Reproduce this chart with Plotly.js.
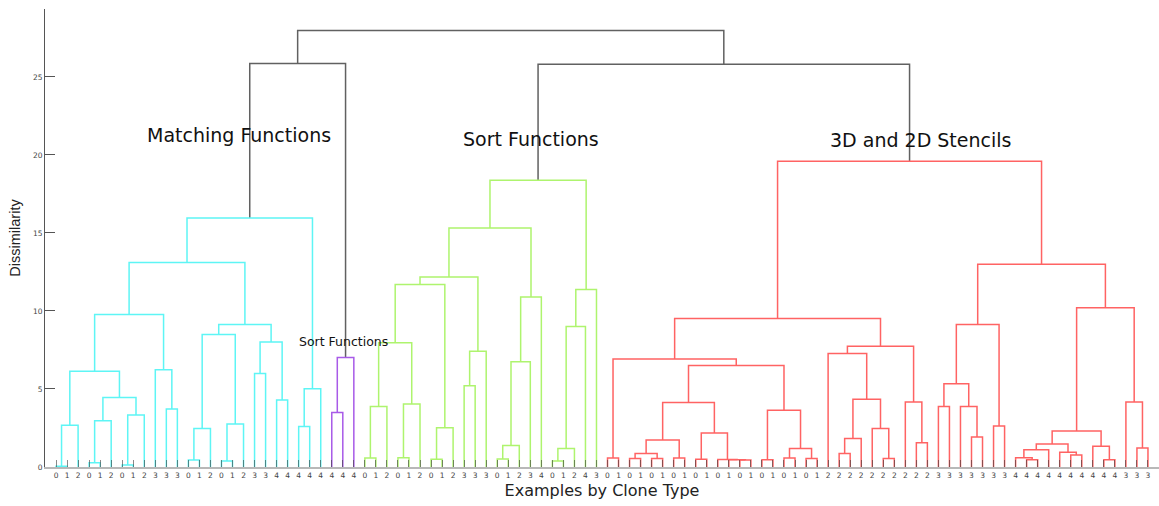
<!DOCTYPE html>
<html><head><meta charset="utf-8">
<script src="https://cdn.plot.ly/plotly-3.0.1.min.js"></script>
<style>html,body{margin:0;padding:0;background:#fff;} #chart{width:1159px;height:506px;}</style>
</head><body><div id="chart"></div>
<script>
// Leaf labels (clone type of each example), left to right
const cloneTypes = [0,1,2, 0,1,2, 0,1,2, 3,3,3, 0,1,2, 0,1,2, 3,3, 4,4,4,4,4,4,4,4,
  0,1,2, 0,1,2, 0,1,2, 3,3,3, 0,1,2,3, 4, 0,1,2, 4, 3,
  0,1,0,1,0,1,0,1,0,1,0,1,0,1,0,1,0,1,0,1,
  2,2,2,2,2,2,2,2,2,2, 3,3,3,3,3,3,3, 4,4,4,4,4,4,4,4,4,4, 3,3,3];

// Linkage: node ids < 100 are leaves, id 100+k is the result of merge k
const mergeLeft = [0,100,3,102,6,104,103,101,10,9,107,12,111,15,113,112,18,20,116,115,110,22,121,120,
  25,124, 123,
  28,127,31,129,128,34,132,131,37,135,134,40,138,139,140,137,45,143,144,145,142,
  50,52,54,149,56,151,58,62,61,60,154,153,64,66,68,161,160,159,148,71,167,75,74,168,70,78,77,172,166,
  80,83,82,177,85,180,88,87,184,92,91,185,95,94,188,98,97,191,182,176,
  147,126];
const mergeRight = [1,2,4,5,7,8,105,106,11,108,109,13,14,16,17,114,19,21,117,118,119,23,24,122,
  26,27, 125,
  29,30,32,33,130,35,36,133,38,39,136,41,42,43,44,141,46,47,48,49,146,
  51,53,55,150,57,152,59,63,155,156,157,158,65,67,69,162,163,164,165,72,73,76,169,170,171,79,173,174,175,
  81,84,178,179,86,181,89,183,90,93,186,187,96,189,190,99,192,193,194,195,
  196,197];
const mergeHeight = [0.05,2.67,0.28,2.97,0.13,3.33,4.45,6.13,3.72,6.24,9.77,0.45,2.46,0.38,2.76,8.49,5.99,4.3,8.01,9.13,13.1,2.59,5.02,15.96,
  3.49,7.01, 25.86,
  0.58,3.87,0.6,4.04,7.97,0.5,2.52,11.69,5.2,7.42,12.18,0.51,1.37,6.75,10.9,15.32,0.38,1.18,9.0,11.37,18.38,
  0.58,0.54,0.54,0.86,0.58,1.73,0.49,0.45,0.46,0.48,2.18,4.13,0.47,0.58,0.54,1.18,3.63,6.5,6.92,0.86,1.82,0.54,2.46,4.34,7.27,1.56,4.17,7.74,9.51,
  3.87,1.92,3.87,5.34,2.63,9.13,0.47,0.6,1.11,0.77,0.94,1.47,0.47,1.33,2.31,1.22,4.17,10.2,13.0,19.6,
  25.81,27.97];
const mergeGroup = ['c','c','c','c','c','c','c','c','c','c','c','c','c','c','c','c','c','c','c','c','c','c','c','c',
  'p','p','k',
  'g','g','g','g','g','g','g','g','g','g','g','g','g','g','g','g','g','g','g','g','g',
  'r','r','r','r','r','r','r','r','r','r','r','r','r','r','r','r','r','r','r','r','r','r','r','r','r','r','r','r','r',
  'r','r','r','r','r','r','r','r','r','r','r','r','r','r','r','r','r','r','r','r',
  'k','k'];

const groupColors = {c:'#5ef5f5', p:'#a85ae8', g:'#aef46e', r:'#ff6363', k:'#616161'};
const clusterNames = ['Matching Functions','Sort Functions','3D and 2D Stencils','Sort Functions'];
const clusterNameX = [17.6, 44.1, 79.4, 27.1];
const clusterNameY = [21.3, 21.0, 20.95, 8.05];

const nLeaf = cloneTypes.length;
const pos = [], hgt = [];
for (let i = 0; i < nLeaf; i++) { pos.push(i + 1); hgt.push(0); }
for (let k = 0; k < mergeHeight.length; k++) {
  const a = mergeLeft[k], b = mergeRight[k];
  pos.push((pos[a] + pos[b]) / 2);
  hgt.push(mergeHeight[k]);
}
const segs = {};
for (let k = 0; k < mergeHeight.length; k++) {
  const a = mergeLeft[k], b = mergeRight[k], g = mergeGroup[k], h = mergeHeight[k];
  if (!segs[g]) segs[g] = {x: [], y: []};
  segs[g].x.push(pos[a], pos[a], pos[b], pos[b], null);
  segs[g].y.push(hgt[a], h, h, hgt[b], null);
}
const traces = ['k','c','p','g','r'].map(g => ({
  type: 'scatter', mode: 'lines', x: segs[g].x, y: segs[g].y,
  line: {color: groupColors[g], width: 1.5}, hoverinfo: 'skip', showlegend: false
}));

const tickFont = {family: 'DejaVu Sans', size: 7.5, color: '#444'};
const layout = {
  width: 1159, height: 506,
  margin: {l: 45, r: 0, t: 9, b: 39},
  paper_bgcolor: '#fff', plot_bgcolor: '#fff',
  showlegend: false,
  xaxis: {
    range: [0, 101], showgrid: false, zeroline: false,
    showline: true, linecolor: '#b8b8b8', linewidth: 2,
    ticks: 'inside', ticklen: 7, tickcolor: 'rgba(60,60,60,0.6)', tickwidth: 1,
    tickmode: 'array', tickvals: cloneTypes.map((_, i) => i + 1), ticktext: cloneTypes.map(String),
    tickfont: tickFont, tickangle: 0,
    title: {text: 'Examples by Clone Type', font: {family: 'DejaVu Sans', size: 16, color: '#222'}, standoff: 6}
  },
  yaxis: {
    range: [0, 29.35], showgrid: false, zeroline: false,
    showline: true, linecolor: '#555', linewidth: 1,
    ticks: 'inside', ticklen: 10, tickcolor: '#555', tickwidth: 1,
    tickmode: 'array', tickvals: [0,5,10,15,20,25],
    tickfont: tickFont,
    title: {text: 'Dissimilarity', font: {family: 'Liberation Sans', size: 14.5, color: '#222'}, standoff: 8}
  },
  annotations: clusterNames.map((t, i) => ({
    text: t, x: clusterNameX[i], y: clusterNameY[i], xref: 'x', yref: 'y',
    showarrow: false, xanchor: 'center', yanchor: 'middle',
    font: {family: 'DejaVu Sans', size: i === 3 ? 12.5 : 19, color: '#111'}
  }))
};
Plotly.newPlot('chart', traces, layout, {staticPlot: true, displayModeBar: false});
</script>
</body></html>
